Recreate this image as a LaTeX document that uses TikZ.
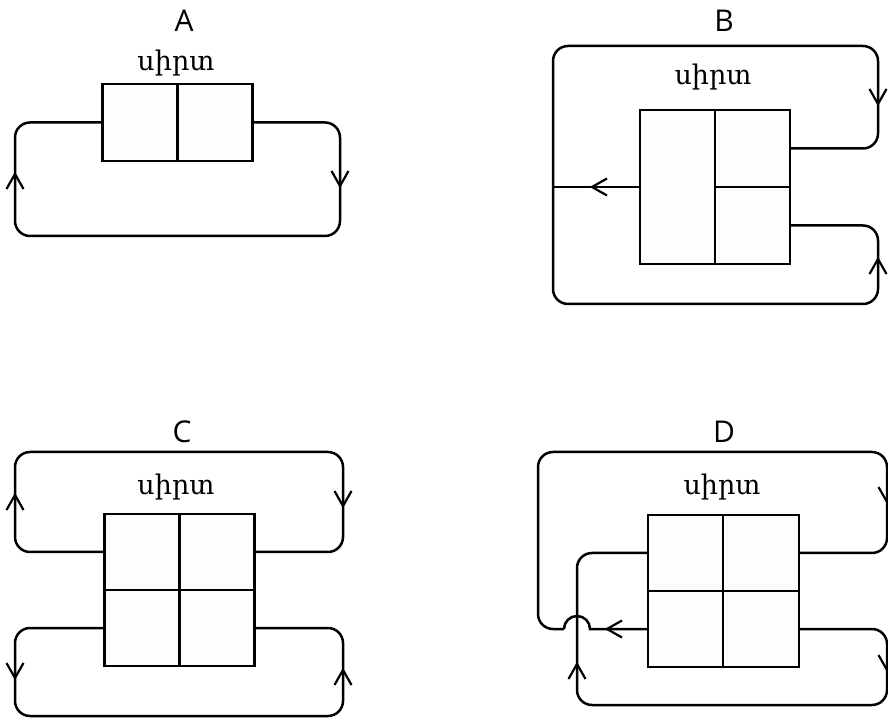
\documentclass[tikz,border=0pt]{standalone}
\usepackage{fontspec}
\setmainfont{Open Sans}
\newfontfamily\armfont{DejaVu Serif}
\definecolor{cellfill}{HTML}{FDFDFB}
\tikzset{
  cell/.style={draw, line width=2.4pt, fill=cellfill, inner sep=0pt, outer sep=0pt},
  wire/.style={line width=2.5pt, rounded corners=15pt},
  pics/chev/.style={code={\draw[line width=2.2pt, line join=miter] (-8.5,-15) -- (0,0) -- (8.5,-15);}},
  lbl/.style={anchor=base, font=\fontsize{30}{36}\selectfont},
  organ/.style={anchor=base, font=\armfont\fontsize{27}{32}\selectfont}
}
\begin{document}
\begin{tikzpicture}[x=1pt,y=1pt]
\useasboundingbox (0,0) rectangle (888,720);
% Panel A
\node[lbl] (aLbl) at (184,688) {A};
\node[organ] (aTxt) at (176,649) {սիրտ};
\node[cell, minimum width=75pt, minimum height=77pt] (aL) at (140,597.5) {};
\node[cell, minimum width=75pt, minimum height=77pt] (aR) at (215,597.5) {};
\coordinate (aSW) at (15,484);
\coordinate (aSE) at (340,484);
\draw[wire] (aR.east) -| (aSE) -- (aSW) |- (aL.west);
%     arrows
\coordinate (aUp) at (15,546);
\coordinate (aDown) at (340,534);
\pic at (aUp) {chev};
\pic[rotate=180] at (aDown) {chev};
% Panel B
\node[lbl] (bLbl) at (724,688) {B};
\node[organ] (bTxt) at (713,635) {սիրտ};
\node[cell, minimum width=75pt, minimum height=154pt] (bL) at (677.5,533) {};
\node[cell, minimum width=75pt, minimum height=77pt] (bTR) at (752.5,571.5) {};
\node[cell, minimum width=75pt, minimum height=77pt] (bBR) at (752.5,494.5) {};
\coordinate (bNW) at (553,674);
\coordinate (bNE) at (878,674);
\coordinate (bSW) at (553,416);
\coordinate (bSE) at (878,416);
\draw[wire] (bTR.east) -| (bNE) -- (bNW) -- (bSW) -- (bSE) |- (bBR.east);
\draw[wire] (bL.west) -- (bL.west -| bNW);
%     arrows
\coordinate (bDown) at (878,616);
\coordinate (bUp) at (878,461);
\coordinate (bLeft) at (592,533);
\pic[rotate=180] at (bDown) {chev};
\pic at (bUp) {chev};
\pic[rotate=90] at (bLeft) {chev};
% Panel C
\node[lbl] (cLbl) at (182,277) {C};
\node[organ] (cTxt) at (176,225) {սիրտ};
\node[cell, minimum width=75pt, minimum height=76pt] (cTL) at (142,168) {};
\node[cell, minimum width=75pt, minimum height=76pt] (cTR) at (217,168) {};
\node[cell, minimum width=75pt, minimum height=76pt] (cBL) at (142,92) {};
\node[cell, minimum width=75pt, minimum height=76pt] (cBR) at (217,92) {};
\coordinate (cNW) at (15,268);
\coordinate (cNE) at (343,268);
\coordinate (cSW) at (15,4);
\coordinate (cSE) at (343,4);
\draw[wire] (cTL.west) -| (cNW) -- (cNE) |- (cTR.east);
\draw[wire] (cBL.west) -| (cSW) -- (cSE) |- (cBR.east);
%     arrows
\coordinate (cUpT) at (15,225);
\coordinate (cDownT) at (343,214);
\coordinate (cDownB) at (15,42);
\coordinate (cUpB) at (343,50);
\pic at (cUpT) {chev};
\pic[rotate=180] at (cDownT) {chev};
\pic[rotate=180] at (cDownB) {chev};
\pic at (cUpB) {chev};
% Panel D
\node[lbl] (dLbl) at (724,277) {D};
\node[organ] (dTxt) at (722,225) {սիրտ};
\node[cell, minimum width=75.5pt, minimum height=76pt] (dTL) at (685.5,167) {};
\node[cell, minimum width=75.5pt, minimum height=76pt] (dTR) at (761,167) {};
\node[cell, minimum width=75.5pt, minimum height=76pt] (dBL) at (685.5,91) {};
\node[cell, minimum width=75.5pt, minimum height=76pt] (dBR) at (761,91) {};
\coordinate (dNW) at (538,268);
\coordinate (dNE) at (887,268);
\coordinate (dSW) at (577,15);
\coordinate (dSE) at (887,15);
\coordinate (dHopR) at (590,91);
\coordinate (dHopL) at (564,91);
%     outer loop, hopping over the inner one
\draw[line width=2.5pt] (dBL.west) -- (dHopR) arc[start angle=0, end angle=180, radius=13];
\draw[wire] (dHopL) -| (dNW) -- (dNE) |- (dTR.east);
%     inner loop
\draw[wire] (dTL.west) -| (dSW) -- (dSE) |- (dBR.east);
%     arrows
\coordinate (dDownT) at (887,218);
\coordinate (dLeft) at (607,91);
\coordinate (dUp) at (577,56);
\coordinate (dDownB) at (887,50);
\pic[rotate=180] at (dDownT) {chev};
\pic[rotate=90] at (dLeft) {chev};
\pic at (dUp) {chev};
\pic[rotate=180] at (dDownB) {chev};
\end{tikzpicture}
\end{document}
